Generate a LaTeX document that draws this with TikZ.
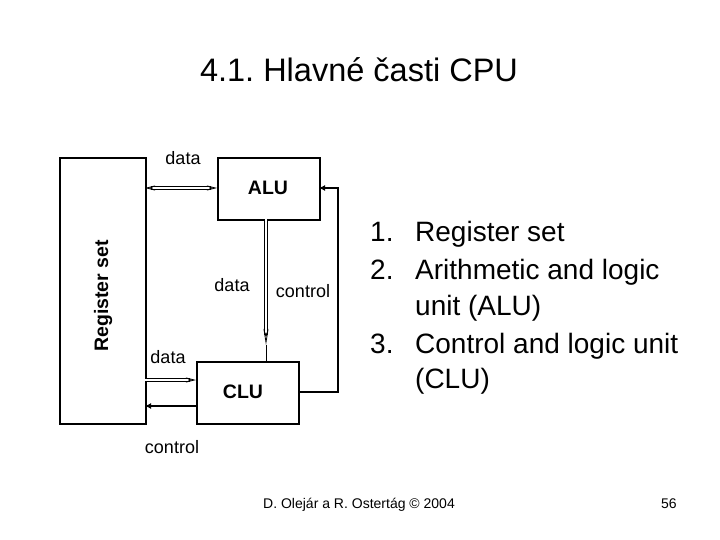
\documentclass[tikz,border=0pt]{standalone}
\usepackage{fontspec}
\setmainfont{Liberation Sans}
\usetikzlibrary{arrows.meta}
\begin{document}
\frenchspacing
\begin{tikzpicture}[x=1pt,y=-1pt,
  box/.style={draw,line width=1.6pt,anchor=north west,inner sep=0pt},
  lbl/.style={font=\fontsize{18}{20}\selectfont},
  blbl/.style={font=\fontsize{19.5}{22}\selectfont\bfseries},
  dbl/.style={double,double distance=1.6pt,line width=0.8pt},
  ctl/.style={line width=1.6pt,-{Latex[length=6pt,width=6pt]}}]
\useasboundingbox (0,0) rectangle (720,540);
\node[font=\fontsize{32.5}{36}\selectfont] (title) at (359,70) {4.1. Hlavné časti CPU};
\node[box,minimum width=86pt,minimum height=266pt] (reg) at (59,157) {};
\node[box,minimum width=102pt,minimum height=62pt] (alu) at (217,157) {};
\node[box,minimum width=102pt,minimum height=62pt] (clu) at (196,361) {};
\node[blbl] (alut) at (268,188) {ALU};
\node[blbl] (clut) at (243,392) {CLU};
\node[blbl,rotate=90] (regt) at (103,296) {Register set};
\node[lbl] (d1) at (183,158) {data};
\node[lbl] (d2) at (232,285) {data};
\node[lbl] (c1) at (303,291) {control};
\node[lbl] (d3) at (168,357) {data};
\node[lbl] (c2) at (172,447) {control};
% connectors
\coordinate (ra) at (145,188);
\coordinate (al) at (217,188);
\draw[dbl,{Stealth[open,length=10pt,width=5pt]}-{Stealth[open,length=10pt,width=5pt]}] (ra) -- (al);
\coordinate (ab) at (266,219);
\coordinate (cm) at (266,345);
\coordinate (ct) at (266,361);
\draw[dbl,-{Stealth[open,length=16pt,width=5pt]}] (ab) -- (cm);
\draw[line width=0.8pt] (cm) -- (ct);
\coordinate (rd) at (145,380);
\coordinate (cd) at (196,380);
\draw[dbl,-{Stealth[open,length=10pt,width=5pt]}] (rd) -- (cd);
\coordinate (cc) at (196,406);
\coordinate (rc) at (145,406);
\draw[ctl] (cc) -- (rc);
\coordinate (cr) at (298,392);
\coordinate (p1) at (338,392);
\coordinate (p2) at (338,188);
\coordinate (ar) at (319,188);
\draw[ctl] (cr) -- (p1) -- (p2) -- (ar);
% list
\begin{scope}[every node/.style={anchor=base west,font=\fontsize{28}{30}\selectfont,inner sep=0pt}]
\node (n1) at (370,241) {1.};
\node (l1) at (415,241) {Register set};
\node (n2) at (370,279) {2.};
\node (l2) at (415,279) {Arithmetic and logic};
\node (l2b) at (415,315) {unit (ALU)};
\node (n3) at (370,353) {3.};
\node (l3) at (415,353) {Control and logic unit};
\node (l3b) at (415,388) {(CLU)};
\end{scope}
\node[font=\fontsize{14}{16}\selectfont,anchor=base west,inner sep=0pt] (foot) at (263,508) {D. Olejár a R. Ostertág © 2004};
\node[font=\fontsize{14}{16}\selectfont,anchor=base west,inner sep=0pt] (pg) at (661,508) {56};
\end{tikzpicture}
\end{document}
